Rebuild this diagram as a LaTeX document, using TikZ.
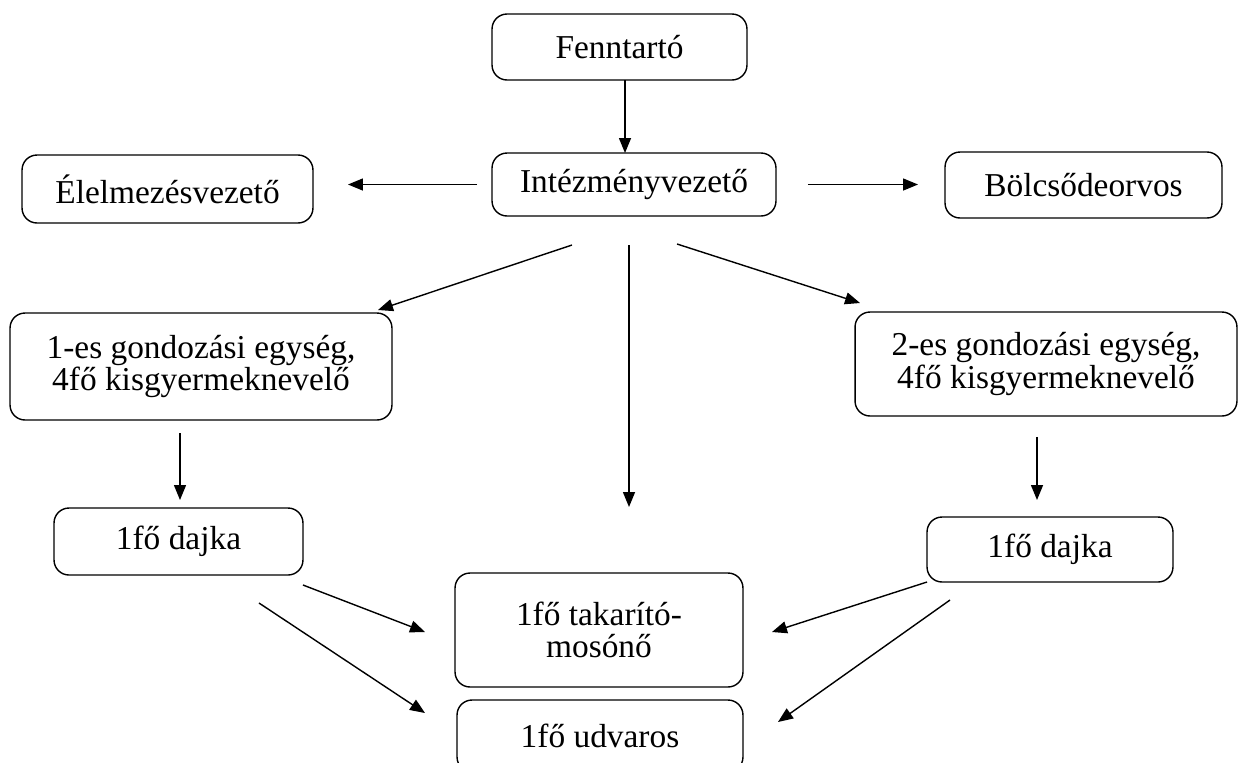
\documentclass[tikz,border=0pt]{standalone}
\usepackage{fontspec}
\setmainfont{Liberation Serif}
\usepackage{tikz}
\usetikzlibrary{arrows.meta, calc, positioning}

\begin{document}
\begin{tikzpicture}[x=0.02cm, y=-0.02cm,
    box/.style={draw, line width=0.8pt, rounded corners=0.3cm, align=center,
        inner sep=0pt, outer sep=0pt,
        font=\fontsize{19}{18.5}\selectfont},
    arr/.style={line width=0.8pt, -{Triangle[length=0.3cm, width=0.24cm]}}]
    \useasboundingbox (0,0) rectangle (1240,762);
    \clip (0,0) rectangle (1240,762);

    % felső szint
    \node[box, minimum width=5.1cm, minimum height=1.32cm] (fenn) at (619.5,47) {Fenntartó};
    \node[box, minimum width=5.68cm, minimum height=1.26cm] (int) at (634,184.5) {Intézményvezető};
    \node[box, minimum width=5.82cm, minimum height=1.36cm] (elm) at (167.5,189) {Élelmezésvezető};
    \node[box, minimum width=5.54cm, minimum height=1.32cm] (bol) at (1083.5,185) {Bölcsődeorvos};

    % gondozási egységek
    \node[box, minimum width=7.64cm, minimum height=2.14cm] (g1) at (201,366.5)
        {1-es gondozási egység,\\4fő kisgyermeknevelő};
    \node[box, minimum width=7.64cm, minimum height=2.08cm] (g2) at (1046,364)
        {2-es gondozási egység,\\4fő kisgyermeknevelő};

    % dajkák
    \node[box, minimum width=4.98cm, minimum height=1.34cm] (dl) at (178.5,541.5) {1fő dajka};
    \node[box, minimum width=4.92cm, minimum height=1.3cm] (dr) at (1050,549.5) {1fő dajka};

    % alsó szint
    \node[box, minimum width=5.76cm, minimum height=2.28cm] (tak) at (599,630)
        {1fő takarító-\\mosónő};
    \node[box, minimum width=5.72cm, minimum height=1.44cm] (udv) at (600,736) {1fő udvaros};

    % nyilak
    \draw[arr] ([xshift=0.11cm]fenn.south) -- ([xshift=0.11cm]fenn.south |- int.north);
    \draw[arr, shorten <=0.3cm, shorten >=0.7cm] (int.west) -- (int.west -| elm.east);
    \draw[arr, shorten <=0.64cm, shorten >=0.54cm] (int.east) -- (int.east -| bol.west);

    \draw[arr] ($(int.south)+(-62,29)$) -- ($(g1.north east)+(-14,-3)$);
    \draw[arr] ($(int.south)+(-5,29)$) -- ($(tak.north)+(30,-66)$);
    \draw[arr] ($(int.south)+(43,28)$) -- ($(g2.north west)+(5,-9)$);

    \draw[arr, shorten <=0.26cm, shorten >=0.16cm] ([xshift=0.03cm]dl.north |- g1.south) -- ([xshift=0.03cm]dl.north);
    \draw[arr, shorten <=0.42cm, shorten >=0.34cm] ([xshift=-0.26cm]dr.north |- g2.south) -- ([xshift=-0.26cm]dr.north);

    \draw[arr] ($(dl.south east)+(0,10)$) -- ($(tak.west)+(-30,2)$);
    \draw[arr] ($(dl.south east)+(-44,28)$) -- ($(udv.north west)+(-32,13)$);
    \draw[arr] (dr.south west) -- ($(tak.east)+(29,2)$);
    \draw[arr] ($(dr.south west)+(23,18)$) -- ($(udv.north east)+(35,22)$);
\end{tikzpicture}
\end{document}
